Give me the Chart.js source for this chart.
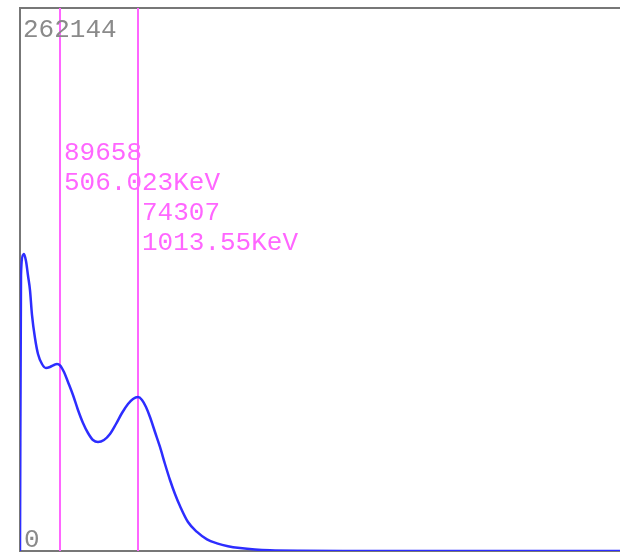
<!DOCTYPE html>
<html>
<head>
<meta charset="utf-8">
<script src="https://cdn.jsdelivr.net/npm/chart.js@4.4.1/dist/chart.umd.min.js"></script>
<style>
  body { margin: 0; background: #fff; }
  canvas { display: block; }
</style>
</head>
<body>
<canvas id="spectrum" width="620" height="556"></canvas>
<script>
// spectrum data (energy in keV, counts)
const energyKeV = [245.8, 252.3, 265.3, 271.8, 284.8, 297.8, 310.8, 323.8, 343.3, 362.9,
  388.9, 414.9, 440.9, 467.0, 486.5, 506.023, 532.1, 558.1, 590.6, 623.1,
  655.7, 688.2, 720.7, 753.3, 792.3, 831.4, 870.4, 909.4, 948.5, 981.0,
  1013.55, 1039.6, 1065.6, 1091.6, 1124.2, 1156.7, 1189.2, 1221.8, 1254.3, 1286.8,
  1338.9, 1397.4, 1462.5, 1527.5, 1599.1, 1677.2, 1774.8, 1872.4, 2067.6, 2458, 3044, 4150];
const counts = [0, 133240, 142900, 143380, 140000, 133000, 126000, 114000, 102800, 95100,
  90280, 88350, 88830, 89800, 90280, 89658, 86420, 81590, 75310, 68070,
  61800, 56970, 53590, 52620, 53590, 56480, 61310, 66620, 70970, 73380,
  74307, 72900, 69520, 64690, 57450, 50210, 42000, 34280, 27520, 21720,
  14000, 9200, 5600, 3700, 2300, 1400, 700, 330, 100, 20, 0, 0];

// cursors
const markerKeV = [506.023, 1013.55];
const markerCounts = [89658, 74307];
const markerText = ['506.023KeV', '1013.55KeV'];

// y range labels
const yTicks = [0, 262144];

const monoFont = '26px "Liberation Mono", "Courier New", monospace';

const framePlugin = {
  id: 'frame',
  beforeDatasetsDraw(chart) {
    const { ctx, chartArea: a, scales } = chart;
    ctx.save();
    // frame
    ctx.strokeStyle = '#777';
    ctx.lineWidth = 2;
    ctx.beginPath();
    ctx.moveTo(a.right, a.top);
    ctx.lineTo(a.left, a.top);
    ctx.lineTo(a.left, a.bottom);
    ctx.lineTo(a.right, a.bottom);
    ctx.stroke();
    // marker lines
    ctx.strokeStyle = '#ff66ff';
    markerKeV.forEach((e) => {
      const x = Math.round(scales.x.getPixelForValue(e));
      ctx.beginPath();
      ctx.moveTo(x, a.top);
      ctx.lineTo(x, a.bottom);
      ctx.stroke();
    });
    ctx.restore();
  },
  afterDatasetsDraw(chart) {
    const { ctx, chartArea: a, scales } = chart;
    ctx.save();
    ctx.font = monoFont;
    ctx.textBaseline = 'alphabetic';
    // min / max labels
    ctx.fillStyle = '#8a8a8a';
    ctx.fillText(String(yTicks[1]), a.left + 3, scales.y.getPixelForValue(yTicks[1]) + 29);
    ctx.fillText(String(yTicks[0]), a.left + 4, scales.y.getPixelForValue(yTicks[0]) - 4);
    // marker labels
    ctx.fillStyle = '#ff66ff';
    let line = 0;
    markerKeV.forEach((e, i) => {
      const x = scales.x.getPixelForValue(e) + 4;
      ctx.fillText(String(markerCounts[i]), x, 160 + line * 30);
      line++;
      ctx.fillText(markerText[i], x, 160 + line * 30);
      line++;
    });
    ctx.restore();
  }
};

new Chart(document.getElementById('spectrum'), {
  type: 'line',
  data: {
    datasets: [{
      data: energyKeV.map((e, i) => ({ x: e, y: counts[i] })),
      borderColor: 'rgb(45,45,255)',
      borderWidth: 2.5,
      pointRadius: 0,
      fill: false,
      cubicInterpolationMode: 'monotone'
    }]
  },
  options: {
    responsive: false,
    animation: false,
    layout: { padding: { left: 20, top: 8, right: 0, bottom: 5 } },
    plugins: { legend: { display: false }, tooltip: { enabled: false } },
    scales: {
      x: { type: 'linear', min: 245.8, max: 4150, display: false },
      y: { min: yTicks[0], max: yTicks[1], display: false }
    }
  },
  plugins: [framePlugin]
});
</script>
</body>
</html>
